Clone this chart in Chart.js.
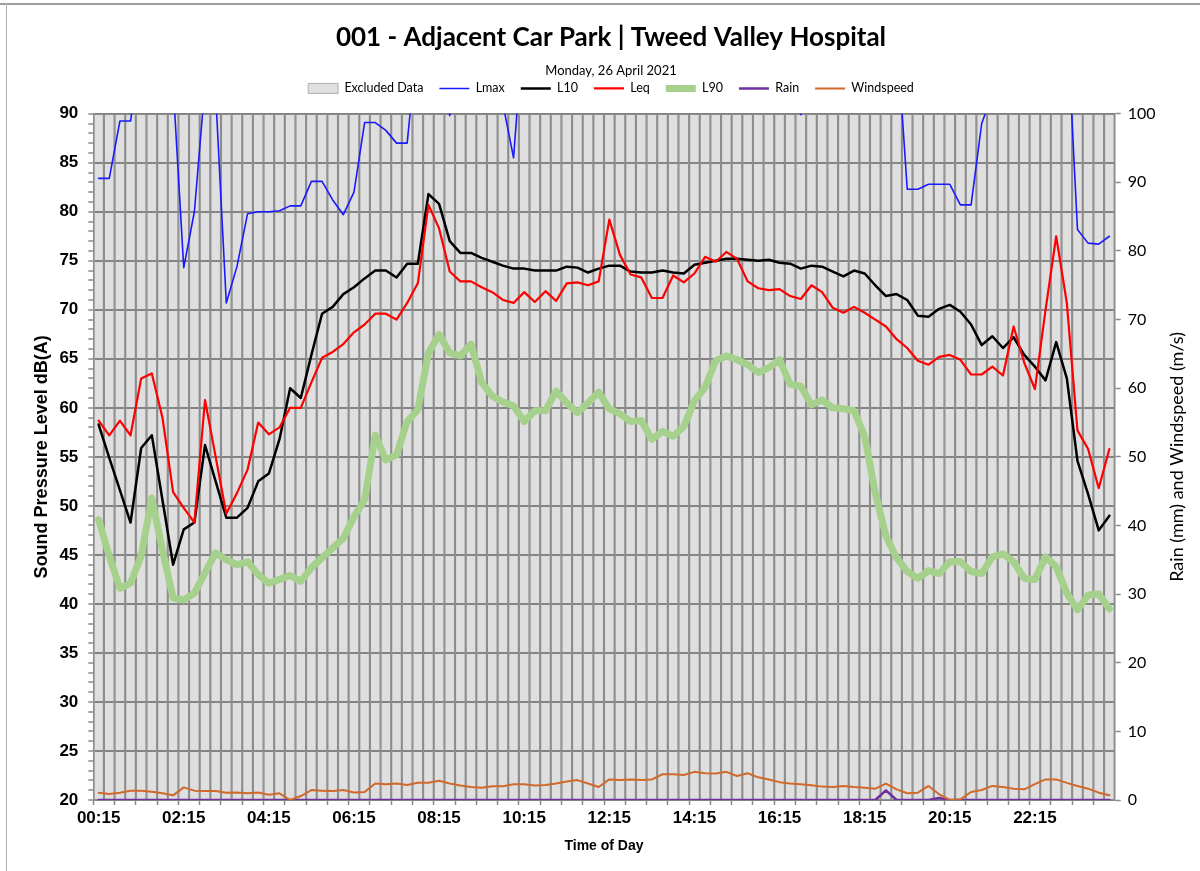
<!DOCTYPE html>
<html><head><meta charset="utf-8">
<script src="https://cdn.jsdelivr.net/npm/chart.js@4.4.1/dist/chart.umd.min.js"></script>
<style>
html,body{margin:0;padding:0;background:#fff;}
#wrap{position:relative;width:1200px;height:871px;overflow:hidden;}
#frameTop{position:absolute;left:0;top:3px;width:1200px;height:0;border-top:2px solid #9c9c9c;}
#frameLeft{position:absolute;left:6px;top:3px;width:0;height:868px;border-left:1px solid #b0b0b0;}
canvas{position:absolute;left:0;top:0;}
</style></head><body>
<div id="wrap"><canvas id="c" width="1200" height="871"></canvas><div id="frameTop"></div><div id="frameLeft"></div></div>
<script>
const timeLabels = ['00:15','00:30','00:45','01:00','01:15','01:30','01:45','02:00','02:15','02:30','02:45','03:00','03:15','03:30','03:45','04:00','04:15','04:30','04:45','05:00','05:15','05:30','05:45','06:00','06:15','06:30','06:45','07:00','07:15','07:30','07:45','08:00','08:15','08:30','08:45','09:00','09:15','09:30','09:45','10:00','10:15','10:30','10:45','11:00','11:15','11:30','11:45','12:00','12:15','12:30','12:45','13:00','13:15','13:30','13:45','14:00','14:15','14:30','14:45','15:00','15:15','15:30','15:45','16:00','16:15','16:30','16:45','17:00','17:15','17:30','17:45','18:00','18:15','18:30','18:45','19:00','19:15','19:30','19:45','20:00','20:15','20:30','20:45','21:00','21:15','21:30','21:45','22:00','22:15','22:30','22:45','23:00','23:15','23:30','23:45','00:00'];
const tickLabels = ['00:15','02:15','04:15','06:15','08:15','10:15','12:15','14:15','16:15','18:15','20:15','22:15'];

const excluded = [90,90,90,90,90,90,90,90,90,90,90,90,90,90,90,90,90,90,90,90,90,90,90,90,90,90,90,90,90,90,90,90,90,90,90,90,90,90,90,90,90,90,90,90,90,90,90,90,90,90,90,90,90,90,90,90,90,90,90,90,90,90,90,90,90,90,90,90,90,90,90,90,90,90,90,90,90,90,90,90,90,90,90,90,90,90,90,90,90,90,90,90,90,90,90,90];

const lmax = [83.4,83.4,89.25,89.25,97,96,95,93,74.3,80.0,93,92,70.7,74.4,79.8,80.0,80.0,80.1,80.6,80.6,83.1,83.1,81.2,79.7,82.0,89.1,89.1,88.3,87.0,87.0,98,100,95,89.8,94,95,96,94,91,85.5,100,96,98,95,97,99,96,94,98,97,95,96,94,97,98,96,95,97,99,98,96,95,97,96,94,95,89.9,96,97,95,96,98,97,95,96,98.5,82.3,82.3,82.8,82.8,82.8,80.7,80.7,89.0,92,95,96,97,95,96,98,100,78.2,76.8,76.7,77.5];

const l10 = [58.3,54.9,51.6,48.3,55.9,57.2,50.6,44.0,47.6,48.3,56.2,52.5,48.8,48.8,49.8,52.5,53.3,56.8,62.0,61.0,65.4,69.6,70.3,71.6,72.3,73.2,74.0,74.0,73.3,74.7,74.7,81.8,80.8,77.0,75.8,75.8,75.3,74.9,74.5,74.2,74.2,74.0,74.0,74.0,74.4,74.3,73.8,74.2,74.5,74.5,73.9,73.8,73.8,74.0,73.8,73.7,74.6,74.8,75.0,75.2,75.2,75.1,75.0,75.1,74.8,74.7,74.2,74.5,74.4,73.9,73.4,74.0,73.7,72.5,71.4,71.6,71.0,69.4,69.3,70.1,70.5,69.8,68.5,66.4,67.3,66.1,67.2,65.4,64.2,62.8,66.7,63.0,54.6,51.2,47.5,49.0];

const leq = [58.7,57.2,58.7,57.2,63.0,63.5,59.0,51.4,49.8,48.3,60.8,55.0,49.2,51.3,53.7,58.5,57.3,58.0,60.0,60.0,62.6,65.1,65.7,66.5,67.7,68.5,69.6,69.6,69.0,70.7,72.7,80.7,78.3,73.9,72.9,72.9,72.3,71.8,71.0,70.7,71.8,70.8,71.9,70.9,72.7,72.8,72.5,72.9,79.2,75.6,73.6,73.3,71.2,71.2,73.5,72.8,73.7,75.4,74.9,75.9,75.2,72.9,72.2,72.0,72.1,71.4,71.1,72.5,71.8,70.2,69.7,70.3,69.7,69.0,68.3,67.0,66.1,64.8,64.4,65.2,65.4,64.9,63.4,63.4,64.2,63.3,68.3,64.6,61.9,70.0,77.5,70.7,57.7,55.8,51.8,55.8];

const l90 = [48.6,44.9,41.6,42.1,44.9,50.8,45.5,40.6,40.4,41.1,43.2,45.2,44.5,44.0,44.3,43.0,42.1,42.5,42.9,42.3,43.7,44.7,45.7,46.7,48.9,50.6,57.2,54.7,55.2,58.6,59.8,65.6,67.5,65.6,65.3,66.5,62.6,61.2,60.6,60.2,58.6,59.7,59.7,61.7,60.5,59.5,60.5,61.6,59.9,59.4,58.6,58.7,56.8,57.6,57.1,58.1,60.7,62.1,64.8,65.3,64.9,64.4,63.6,64.1,64.9,62.4,62.2,60.3,60.8,60.0,59.9,59.7,57.1,51.3,46.9,44.7,43.3,42.6,43.4,43.1,44.3,44.3,43.3,43.1,44.8,45.1,44.3,42.6,42.5,44.8,43.8,41.1,39.4,40.9,41.0,39.5];

const rain = [0,0,0,0,0,0,0,0,0,0,0,0,0,0,0,0,0,0,0,0,0,0,0,0,0,0,0,0,0,0,0,0,0,0,0,0,0,0,0,0,0,0,0,0,0,0,0,0,0,0,0,0,0,0,0,0,0,0,0,0,0,0,0,0,0,0,0,0,0,0,0,0,0,0,1.4,0,0,0,0,0.3,0,0,0,0,0,0,0,0,0,0,0,0,0,0,0,0];

const windspeed = [1.07,0.87,1.07,1.36,1.36,1.2,0.97,0.68,1.84,1.36,1.3,1.3,1.07,1.1,0.97,1.1,0.77,0.97,0.0,0.58,1.45,1.36,1.3,1.45,1.1,1.16,2.4,2.3,2.4,2.2,2.5,2.5,2.8,2.4,2.1,1.9,1.8,2.0,2.0,2.3,2.3,2.1,2.2,2.4,2.7,2.9,2.4,1.9,3.0,2.9,3.0,2.9,3.0,3.75,3.75,3.65,4.1,3.9,3.85,4.1,3.5,3.9,3.3,3.0,2.6,2.4,2.3,2.15,1.95,1.9,2.05,1.9,1.8,1.65,2.4,1.55,0.98,1.07,2.05,0.83,0.0,0.1,1.17,1.46,2.05,1.9,1.65,1.56,2.3,3.0,3.0,2.5,2.05,1.65,1.07,0.68];

const chartTitle = '001 - Adjacent Car Park | Tweed Valley Hospital';
const chartSubtitle = 'Monday, 26 April 2021';
const leftTitle = 'Sound Pressure Level dB(A)';
const rightTitle = 'Rain (mm) and Windspeed (m/s)';
const xTitle = 'Time of Day';

const ARIAL = '"Liberation Sans", Arial, sans-serif';
const CAL = 'Lato, "Open Sans", sans-serif';

const legendGap = {
  id: 'legendGap',
  beforeInit(chart) {
    const fit = chart.legend.fit;
    chart.legend.fit = function () { fit.call(this); this.height += 9; };
  }
};
const rightAxisTitle = {
  id: 'rightAxisTitle',
  afterDraw(chart) {
    const s = chart.scales.y2;
    const ctx = chart.ctx;
    ctx.save();
    ctx.translate(s.right - 23, (s.top + s.bottom) / 2);
    ctx.rotate(-Math.PI / 2);
    ctx.textAlign = 'center';
    ctx.textBaseline = 'middle';
    ctx.font = '18px ' + CAL;
    ctx.fillStyle = '#000';
    ctx.fillText(rightTitle, 0, 0);
    ctx.restore();
  }
};

function lineDs(label, data, color, width, axis, order) {
  return { type: 'line', label, data, borderColor: color, backgroundColor: color, borderWidth: width,
    pointRadius: 0, pointHoverRadius: 0, tension: 0, fill: false, yAxisID: axis, order,
    pointStyle: 'line', borderJoinStyle: 'round', borderCapStyle: 'round' };
}

new Chart(document.getElementById('c'), {
  data: {
    labels: timeLabels,
    datasets: [
      { type: 'bar', label: 'Excluded Data', data: excluded, yAxisID: 'y', order: 10,
        backgroundColor: 'rgba(150,150,150,0.3)', borderColor: '#8c8c8c',
        borderWidth: { left: 0.75, right: 0.75, top: 1, bottom: 0 },
        barPercentage: 1, categoryPercentage: 1, pointStyle: 'rect' },
      lineDs('Lmax', lmax, '#1a1aff', 1.6, 'y', 6),
      lineDs('L10', l10, '#000000', 2.5, 'y', 5),
      lineDs('Leq', leq, '#ff0000', 2.2, 'y', 4),
      lineDs('L90', l90, '#a5d18c', 7, 'y', 3),
      lineDs('Rain', rain, '#7030a0', 2.6, 'y2', 2),
      lineDs('Windspeed', windspeed, '#d0692a', 2, 'y2', 1)
    ]
  },
  options: {
    responsive: false, animation: false, devicePixelRatio: 1, events: [],
    layout: { padding: { top: 10, left: 22, right: 0, bottom: 0 } },
    plugins: {
      tooltip: { enabled: false },
      title: { display: true, text: chartTitle, color: '#000',
        font: { family: CAL, weight: 'bold', size: 26 }, padding: { top: 12.4, bottom: 9.6 } },
      subtitle: { display: true, text: chartSubtitle, color: '#000',
        font: { family: CAL, size: 13 }, padding: { top: 0, bottom: -12.6 } },
      legend: { position: 'top',
        labels: { usePointStyle: true, pointStyleWidth: 30, boxHeight: 10, padding: 16, color: '#000',
          font: { family: CAL, size: 12.5 }, sort: (a, b) => a.datasetIndex - b.datasetIndex } }
    },
    scales: {
      x: { type: 'category', offset: true,
        grid: { offset: true, drawOnChartArea: false, drawTicks: true, tickLength: 5, tickWidth: 1.5,
          color: '#8a8a8a', tickColor: c => (c.index % 2 === 0 ? '#8a8a8a' : 'rgba(0,0,0,0)') },
        border: { display: true, color: '#8a8a8a', width: 1.5 },
        ticks: { autoSkip: false, maxRotation: 0, minRotation: 0, padding: 3, color: '#000',
          font: { family: ARIAL, weight: 'bold', size: 17 },
          callback: (v, i) => (tickLabels.includes(timeLabels[i]) ? timeLabels[i] : '') },
        title: { display: true, text: xTitle, color: '#000', font: { family: ARIAL, weight: 'bold', size: 14 },
          padding: { top: 0, bottom: 16 } },
        afterFit: s => { s.height = 71; } },
      y: { position: 'left', min: 20, max: 90,
        ticks: { stepSize: 1, autoSkip: false, maxTicksLimit: 200, padding: 10, color: '#000',
          font: { family: ARIAL, weight: 'bold', size: 17 },
          callback: v => (v % 5 === 0 ? v : '') },
        grid: { color: c => (c.tick && c.tick.value % 5 === 0 ? 'rgb(125,125,125)' : 'rgba(0,0,0,0)'),
          lineWidth: 2, tickColor: '#8a8a8a', tickLength: 5, tickWidth: 1.5 },
        border: { color: '#8a8a8a', width: 1.5 },
        title: { display: true, text: leftTitle, color: '#000', font: { family: ARIAL, weight: 'bold', size: 18 },
          padding: { top: 9, bottom: 0 } },
        afterFit: s => { s.width = 71.3; } },
      y2: { position: 'right', min: 0, max: 100,
        ticks: { stepSize: 10, padding: 7, color: '#000', font: { family: CAL, size: 16 } },
        grid: { drawOnChartArea: false, tickLength: 6, tickColor: '#8a8a8a', tickWidth: 1.5 },
        border: { color: '#8a8a8a', width: 1.5 },
        afterFit: s => { s.width = 85.3; } }
    }
  },
  plugins: [legendGap, rightAxisTitle]
});
</script>
</body></html>
